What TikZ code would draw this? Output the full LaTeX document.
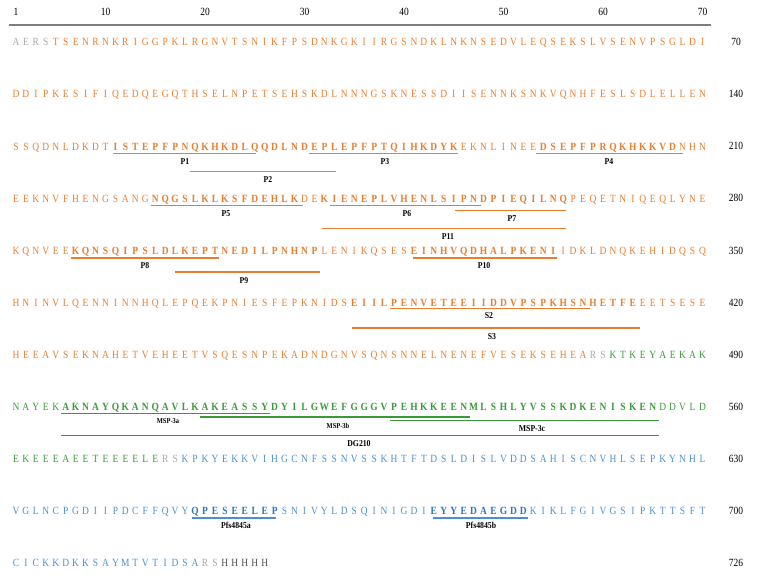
\documentclass[tikz,border=0pt]{standalone}
\usepackage{fontspec}
\setmainfont{Liberation Serif}
\newfontfamily\seqfont{Liberation Serif}[FakeStretch=0.86]
\definecolor{orn}{HTML}{E87D2E}
\definecolor{grn}{HTML}{3A9A3A}
\definecolor{blu}{HTML}{4A90D0}
\definecolor{bluD}{HTML}{2E75C0}
\definecolor{gry}{HTML}{A8A8A8}
\definecolor{dgy}{HTML}{505050}
\definecolor{rul}{HTML}{7F7F7F}
\tikzset{
  seq/.style={inner sep=0pt, anchor=base, font=\seqfont\fontsize{11}{13}\selectfont},
  seqb/.style={inner sep=0pt, anchor=base, font=\seqfont\fontsize{11}{13}\selectfont\bfseries},
  sO/.style={seq, text=orn},
  sOB/.style={seqb, text=orn},
  sG/.style={seq, text=grn},
  sGB/.style={seqb, text=grn},
  sB/.style={seq, text=blu},
  sBB/.style={seqb, text=bluD},
  sGy/.style={seq, text=gry},
  sH/.style={seq, text=dgy},
  num/.style={inner sep=0pt, anchor=center, font=\seqfont\fontsize{11}{13}\selectfont},
  lab/.style={inner sep=0pt, anchor=center, font=\seqfont\fontsize{9}{10}\selectfont\bfseries},
  labs/.style={inner sep=0pt, anchor=center, font=\seqfont\fontsize{7.5}{8}\selectfont\bfseries},
  oln/.style={draw=orn, line width=1.8pt},
  gln/.style={draw=grn, line width=1.8pt},
  bln/.style={draw=blu, line width=1.8pt},
}
\newcommand\seqrow[4]{%
  \foreach \ch [count=\k from #2] in {#4}{%
    \node[#3] (r#1c\k) at ({6+9.95*\k},{42+52.1*(#1-1)+3.8}) {\ch};}}
\begin{document}
\begin{tikzpicture}[x=1pt,y=-1pt]
\useasboundingbox (0,0) rectangle (759,578);
% ruler
\node[num] (t1) at (16,12) {1};
\foreach \v in {10,20,...,70}{\node[num] (t\v) at ({6+9.95*\v},12) {\v};}
\coordinate (rulL) at (9,25);
\coordinate (rulR) at (711,25);
\draw[rul, line width=2pt] (rulL) -- (rulR);
% row end numbers
\foreach \n/\r in {70/1,140/2,210/3,280/4,350/5,420/6,490/7,560/8,630/9,700/10,726/11}{
  \node[num] (e\r) at (736,{42+52.1*(\r-1)}) {\n};}
% row 1
\seqrow{1}{1}{sGy}{A,E,R,S}
\seqrow{1}{5}{sO}{T,S,E,N,R,N,K,R,I,G,G,P,K,L,R,G,N,V,T,S,N,I,K,F,P,S,D,N,K,G,K,I,I,R,G,S,N,D,K,L,N,K,N,S,E,D,V,L,E,Q,S,E,K,S,L,V,S,E,N,V,P,S,G,L,D,I}
% row 2
\seqrow{2}{1}{sO}{D,D,I,P,K,E,S,I,F,I,Q,E,D,Q,E,G,Q,T,H,S,E,L,N,P,E,T,S,E,H,S,K,D,L,N,N,N,G,S,K,N,E,S,S,D,I,I,S,E,N,N,K,S,N,K,V,Q,N,H,F,E,S,L,S,D,L,E,L,L,E,N}
% row 3
\seqrow{3}{1}{sO}{S,S,Q,D,N,L,D,K,D,T}
\seqrow{3}{11}{sOB}{I,S,T,E,P,F,P,N,Q,K,H,K,D,L,Q,Q,D,L,N,D,E,P,L,E,P,F,P,T,Q,I,H,K,D,Y,K}
\seqrow{3}{46}{sO}{E,K,N,L,I,N,E,E}
\seqrow{3}{54}{sOB}{D,S,E,P,F,P,R,Q,K,H,K,K,V,D}
\seqrow{3}{68}{sO}{N,H,N}
% row 4
\seqrow{4}{1}{sO}{E,E,K,N,V,F,H,E,N,G,S,A,N,G}
\seqrow{4}{15}{sOB}{N,Q,G,S,L,K,L,K,S,F,D,E,H,L,K}
\seqrow{4}{30}{sO}{D,E}
\seqrow{4}{32}{sOB}{K,I,E,N,E,P,L,V,H,E,N,L,S,I,P,N,D,P,I,E,Q,I,L,N,Q}
\seqrow{4}{57}{sO}{P,E,Q,E,T,N,I,Q,E,Q,L,Y,N,E}
% row 5
\seqrow{5}{1}{sO}{K,Q,N,V,E,E}
\seqrow{5}{7}{sOB}{K,Q,N,S,Q,I,P,S,L,D,L,K,E,P,T,N,E,D,I,L,P,N,H,N,P}
\seqrow{5}{32}{sO}{L,E,N,I,K,Q,S,E,S}
\seqrow{5}{41}{sOB}{E,I,N,H,V,Q,D,H,A,L,P,K,E,N,I}
\seqrow{5}{56}{sO}{I,D,K,L,D,N,Q,K,E,H,I,D,Q,S,Q}
% row 6
\seqrow{6}{1}{sO}{H,N,I,N,V,L,Q,E,N,N,I,N,N,H,Q,L,E,P,Q,E,K,P,N,I,E,S,F,E,P,K,N,I,D,S}
\seqrow{6}{35}{sOB}{E,I,I,L,P,E,N,V,E,T,E,E,I,I,D,D,V,P,S,P,K,H,S,N,H,E,T,F,E}
\seqrow{6}{64}{sO}{E,E,T,S,E,S,E}
% row 7
\seqrow{7}{1}{sO}{H,E,E,A,V,S,E,K,N,A,H,E,T,V,E,H,E,E,T,V,S,Q,E,S,N,P,E,K,A,D,N,D,G,N,V,S,Q,N,S,N,N,E,L,N,E,N,E,F,V,E,S,E,K,S,E,H,E,A}
\seqrow{7}{59}{sGy}{R,S}
\seqrow{7}{61}{sG}{K,T,K,E,Y,A,E,K,A,K}
% row 8
\seqrow{8}{1}{sG}{N,A,Y,E,K}
\seqrow{8}{6}{sGB}{A,K,N,A,Y,Q,K,A,N,Q,A,V,L,K,A,K,E,A,S,S,Y,D,Y,I,L,G,W,E,F,G,G,G,V,P,E,H,K,K,E,E,N,M,L,S,H,L,Y,V,S,S,K,D,K,E,N,I,S,K,E,N}
\seqrow{8}{66}{sG}{D,D,V,L,D}
% row 9
\seqrow{9}{1}{sG}{E,K,E,E,E,A,E,E,T,E,E,E,E,L,E}
\seqrow{9}{16}{sGy}{R,S}
\seqrow{9}{18}{sB}{K,P,K,Y,E,K,K,V,I,H,G,C,N,F,S,S,N,V,S,S,K,H,T,F,T,D,S,L,D,I,S,L,V,D,D,S,A,H,I,S,C,N,V,H,L,S,E,P,K,Y,N,H,L}
% row 10
\seqrow{10}{1}{sB}{V,G,L,N,C,P,G,D,I,I,P,D,C,F,F,Q,V,Y}
\seqrow{10}{19}{sBB}{Q,P,E,S,E,E,L,E,P}
\seqrow{10}{28}{sB}{S,N,I,V,Y,L,D,S,Q,I,N,I,G,D,I}
\seqrow{10}{43}{sBB}{E,Y,Y,E,D,A,E,G,D,D}
\seqrow{10}{53}{sB}{K,I,K,L,F,G,I,V,G,S,I,P,K,T,T,S,F,T}
% row 11
\seqrow{11}{1}{sB}{C,I,C,K,K,D,K,K,S,A,Y,M,T,V,T,I,D,S,A}
\seqrow{11}{20}{sGy}{R,S}
\seqrow{11}{22}{sH}{H,H,H,H,H}
% ---- annotations row 3
\draw[oln] (113,153.5) -- (256,153.5); \node[lab] (P1) at (185,161.5) {P1};
\draw[oln] (309,153.5) -- (458,153.5); \node[lab] (P3) at (385,161.5) {P3};
\draw[oln] (536,153.5) -- (683,153.5); \node[lab] (P4) at (609,161.5) {P4};
\draw[oln] (190,171.5) -- (336,171.5); \node[lab] (P2) at (268,180) {P2};
% row 4
\draw[oln] (151,205.5) -- (303,205.5); \node[lab] (P5) at (226,213.5) {P5};
\draw[oln] (330,205.5) -- (481,205.5); \node[lab] (P6) at (407,213.5) {P6};
\draw[oln] (455,210.5) -- (566,210.5); \node[lab] (P7) at (512,218.5) {P7};
\draw[oln] (322,228.5) -- (566,228.5); \node[lab] (P11) at (448,236.5) {P11};
% row 5
\draw[oln] (71,258) -- (219,258); \node[lab] (P8) at (145,265.5) {P8};
\draw[oln] (413,258) -- (557,258); \node[lab] (P10) at (484,265.5) {P10};
\draw[oln] (175,272) -- (320,272); \node[lab] (P9) at (244,281) {P9};
% row 6
\draw[oln] (390,308.5) -- (590,308.5); \node[lab] (S2) at (489,315.5) {S2};
\draw[oln] (352,328) -- (640,328); \node[lab] (S3) at (492,337) {S3};
% row 8
\draw[gln] (61,413.5) -- (270,413.5); \node[labs] (M3a) at (168,421.5) {MSP-3a};
\draw[gln] (200,417) -- (470,417); \node[labs] (M3b) at (338,425.5) {MSP-3b};
\draw[gln] (390,420.5) -- (659,420.5); \node[lab] (M3c) at (532,428.5) {MSP-3c};
\draw[gln] (61,435.5) -- (659,435.5); \node[lab] (DG) at (359,444) {DG210};
% row 10
\draw[bln] (192,518) -- (276,518); \node[lab] (Pa) at (236,525.5) {Pfs4845a};
\draw[bln] (433,518) -- (528,518); \node[lab] (Pb) at (481,525.5) {Pfs4845b};
\end{tikzpicture}
\end{document}
